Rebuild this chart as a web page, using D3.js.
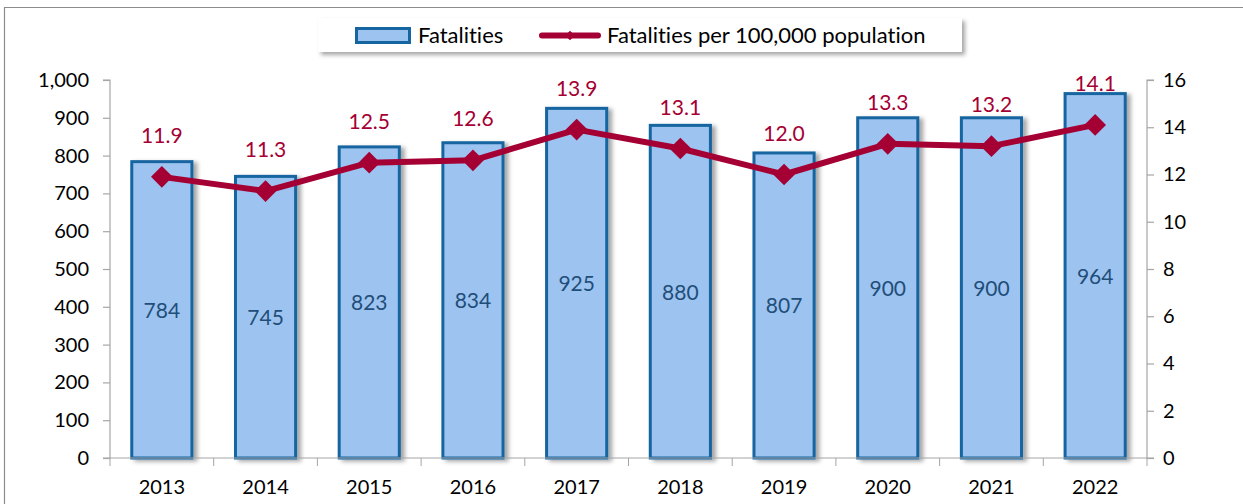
<!DOCTYPE html>
<html><head><meta charset="utf-8">
<script src="https://cdn.jsdelivr.net/npm/d3@7"></script>
<style>
html,body{margin:0;padding:0;background:#fff;}
svg{display:block;font-family:Lato,"Open Sans",sans-serif;font-variant-ligatures:none;font-feature-settings:"liga" 0;}
</style></head>
<body>
<svg id="c" width="1243" height="504"></svg>
<script>
const years = ["2013","2014","2015","2016","2017","2018","2019","2020","2021","2022"];
const fatalities = [784,745,823,834,925,880,807,900,900,964];
const rates = [11.9,11.3,12.5,12.6,13.9,13.1,12.0,13.3,13.2,14.1];
const leftTicks = [0,100,200,300,400,500,600,700,800,900,1000];
const rightTicks = [0,2,4,6,8,10,12,14,16];
const seriesNames = ["Fatalities","Fatalities per 100,000 population"];

const svg = d3.select("#c");
const L = 110, R = 1147, T = 80, B = 458;
const x = d3.scaleBand().domain(years).range([L,R]).paddingInner(0.42).paddingOuter(0.21);
const yL = d3.scaleLinear().domain([0,1000]).range([B,T]);
const yR = d3.scaleLinear().domain([0,16]).range([B,T]);
const barFill = "#9dc3f0", barStroke = "#1565a0", lineCol = "#a50034", valCol = "#1f4e79", axisCol = "#a6a6a6";

const defs = svg.append("defs");
const f = defs.append("filter").attr("id","sh").attr("x","-20%").attr("y","-20%").attr("width","150%").attr("height","150%");
f.append("feDropShadow").attr("dx",4).attr("dy",2).attr("stdDeviation",2.2).attr("flood-color","#000").attr("flood-opacity",0.35);
const f2 = defs.append("filter").attr("id","sh2").attr("x","-10%").attr("y","-30%").attr("width","120%").attr("height","180%");
f2.append("feDropShadow").attr("dx",3).attr("dy",3).attr("stdDeviation",2).attr("flood-color","#000").attr("flood-opacity",0.35);

// outer frame
svg.append("path").attr("d","M4.5,510 V7.5 H1250").attr("fill","none").attr("stroke","#8c8c8c").attr("stroke-width",1.2);

// legend
const lg = svg.append("g");
lg.append("rect").attr("x",318).attr("y",18).attr("width",644).attr("height",34).attr("fill","#fff").attr("filter","url(#sh2)");
lg.append("rect").attr("x",356.5).attr("y",28.5).attr("width",53).attr("height",14).attr("fill",barFill).attr("stroke",barStroke).attr("stroke-width",3);
lg.append("text").attr("x",418).attr("y",43).attr("font-size",22).attr("fill","#000").text(seriesNames[0]);
lg.append("line").attr("x1",542).attr("x2",598).attr("y1",35.5).attr("y2",35.5).attr("stroke",lineCol).attr("stroke-width",6).attr("stroke-linecap","round");
lg.append("path").attr("d",d3.symbol(d3.symbolDiamond2,60)()).attr("transform","translate(570,35.5)").attr("fill",lineCol);
lg.append("text").attr("x",607).attr("y",43).attr("font-size",22).attr("fill","#000").text(seriesNames[1]);

// bars
svg.append("g").selectAll("rect").data(fatalities).join("rect")
  .attr("x",(d,i)=>x(years[i])).attr("width",x.bandwidth())
  .attr("y",d=>yL(d)).attr("height",d=>B-yL(d))
  .attr("fill",barFill).attr("stroke",barStroke).attr("stroke-width",3)
  .attr("filter","url(#sh)");

// axes
const axL = svg.append("g").attr("transform",`translate(${L},0)`)
  .call(d3.axisLeft(yL).tickValues(leftTicks).tickSize(7).tickPadding(14).tickFormat(d3.format(",")));
const axR = svg.append("g").attr("transform",`translate(${R},0)`)
  .call(d3.axisRight(yR).tickValues(rightTicks).tickSize(7).tickPadding(9));
const axB = svg.append("g").attr("transform",`translate(0,${B})`)
  .call(d3.axisBottom(x).tickSize(0).tickPadding(22));
const bounds = years.map(y=>x(y)-x.step()*0.21).concat([R]);
axB.selectAll(".bt").data(bounds).join("line").attr("class","bt")
  .attr("x1",d=>d).attr("x2",d=>d).attr("y1",0).attr("y2",8).attr("stroke",axisCol);
[axL,axR,axB].forEach(a=>{
  a.selectAll(".domain").attr("stroke",axisCol).attr("stroke-width",1.2);
  a.selectAll(".tick line").attr("stroke",axisCol).attr("stroke-width",1.2);
  a.selectAll("text").attr("font-size",20).attr("font-family","Lato, 'Open Sans', sans-serif").attr("fill","#000");
});
axL.select(".domain").attr("d",`M-7,${T}H0V${B}H-7`);
axR.select(".domain").attr("d",`M7,${T}H0V${B}H7`);
axB.select(".domain").attr("d",`M${L},0H${R}`);

// bar value labels
svg.append("g").selectAll("text").data(fatalities).join("text")
  .attr("x",(d,i)=>x(years[i])+x.bandwidth()/2).attr("y",d=>(yL(d)+B)/2+8)
  .attr("text-anchor","middle").attr("font-size",21).attr("fill",valCol).text(d=>d);

// line
const cx = i=>x(years[i])+x.bandwidth()/2;
svg.append("path").datum(rates)
  .attr("d",d3.line().x((d,i)=>cx(i)).y(d=>yR(d)))
  .attr("fill","none").attr("stroke",lineCol).attr("stroke-width",6).attr("stroke-linejoin","round");
svg.append("g").selectAll("path").data(rates).join("path")
  .attr("d",d3.symbol(d3.symbolDiamond2,300)())
  .attr("transform",(d,i)=>`translate(${cx(i)},${yR(d)})`).attr("fill",lineCol);
svg.append("g").selectAll("text").data(rates).join("text")
  .attr("x",(d,i)=>cx(i)).attr("y",d=>yR(d)-34)
  .attr("text-anchor","middle").attr("font-size",21).attr("fill",lineCol).text(d=>d.toFixed(1));
</script>
</body></html>
